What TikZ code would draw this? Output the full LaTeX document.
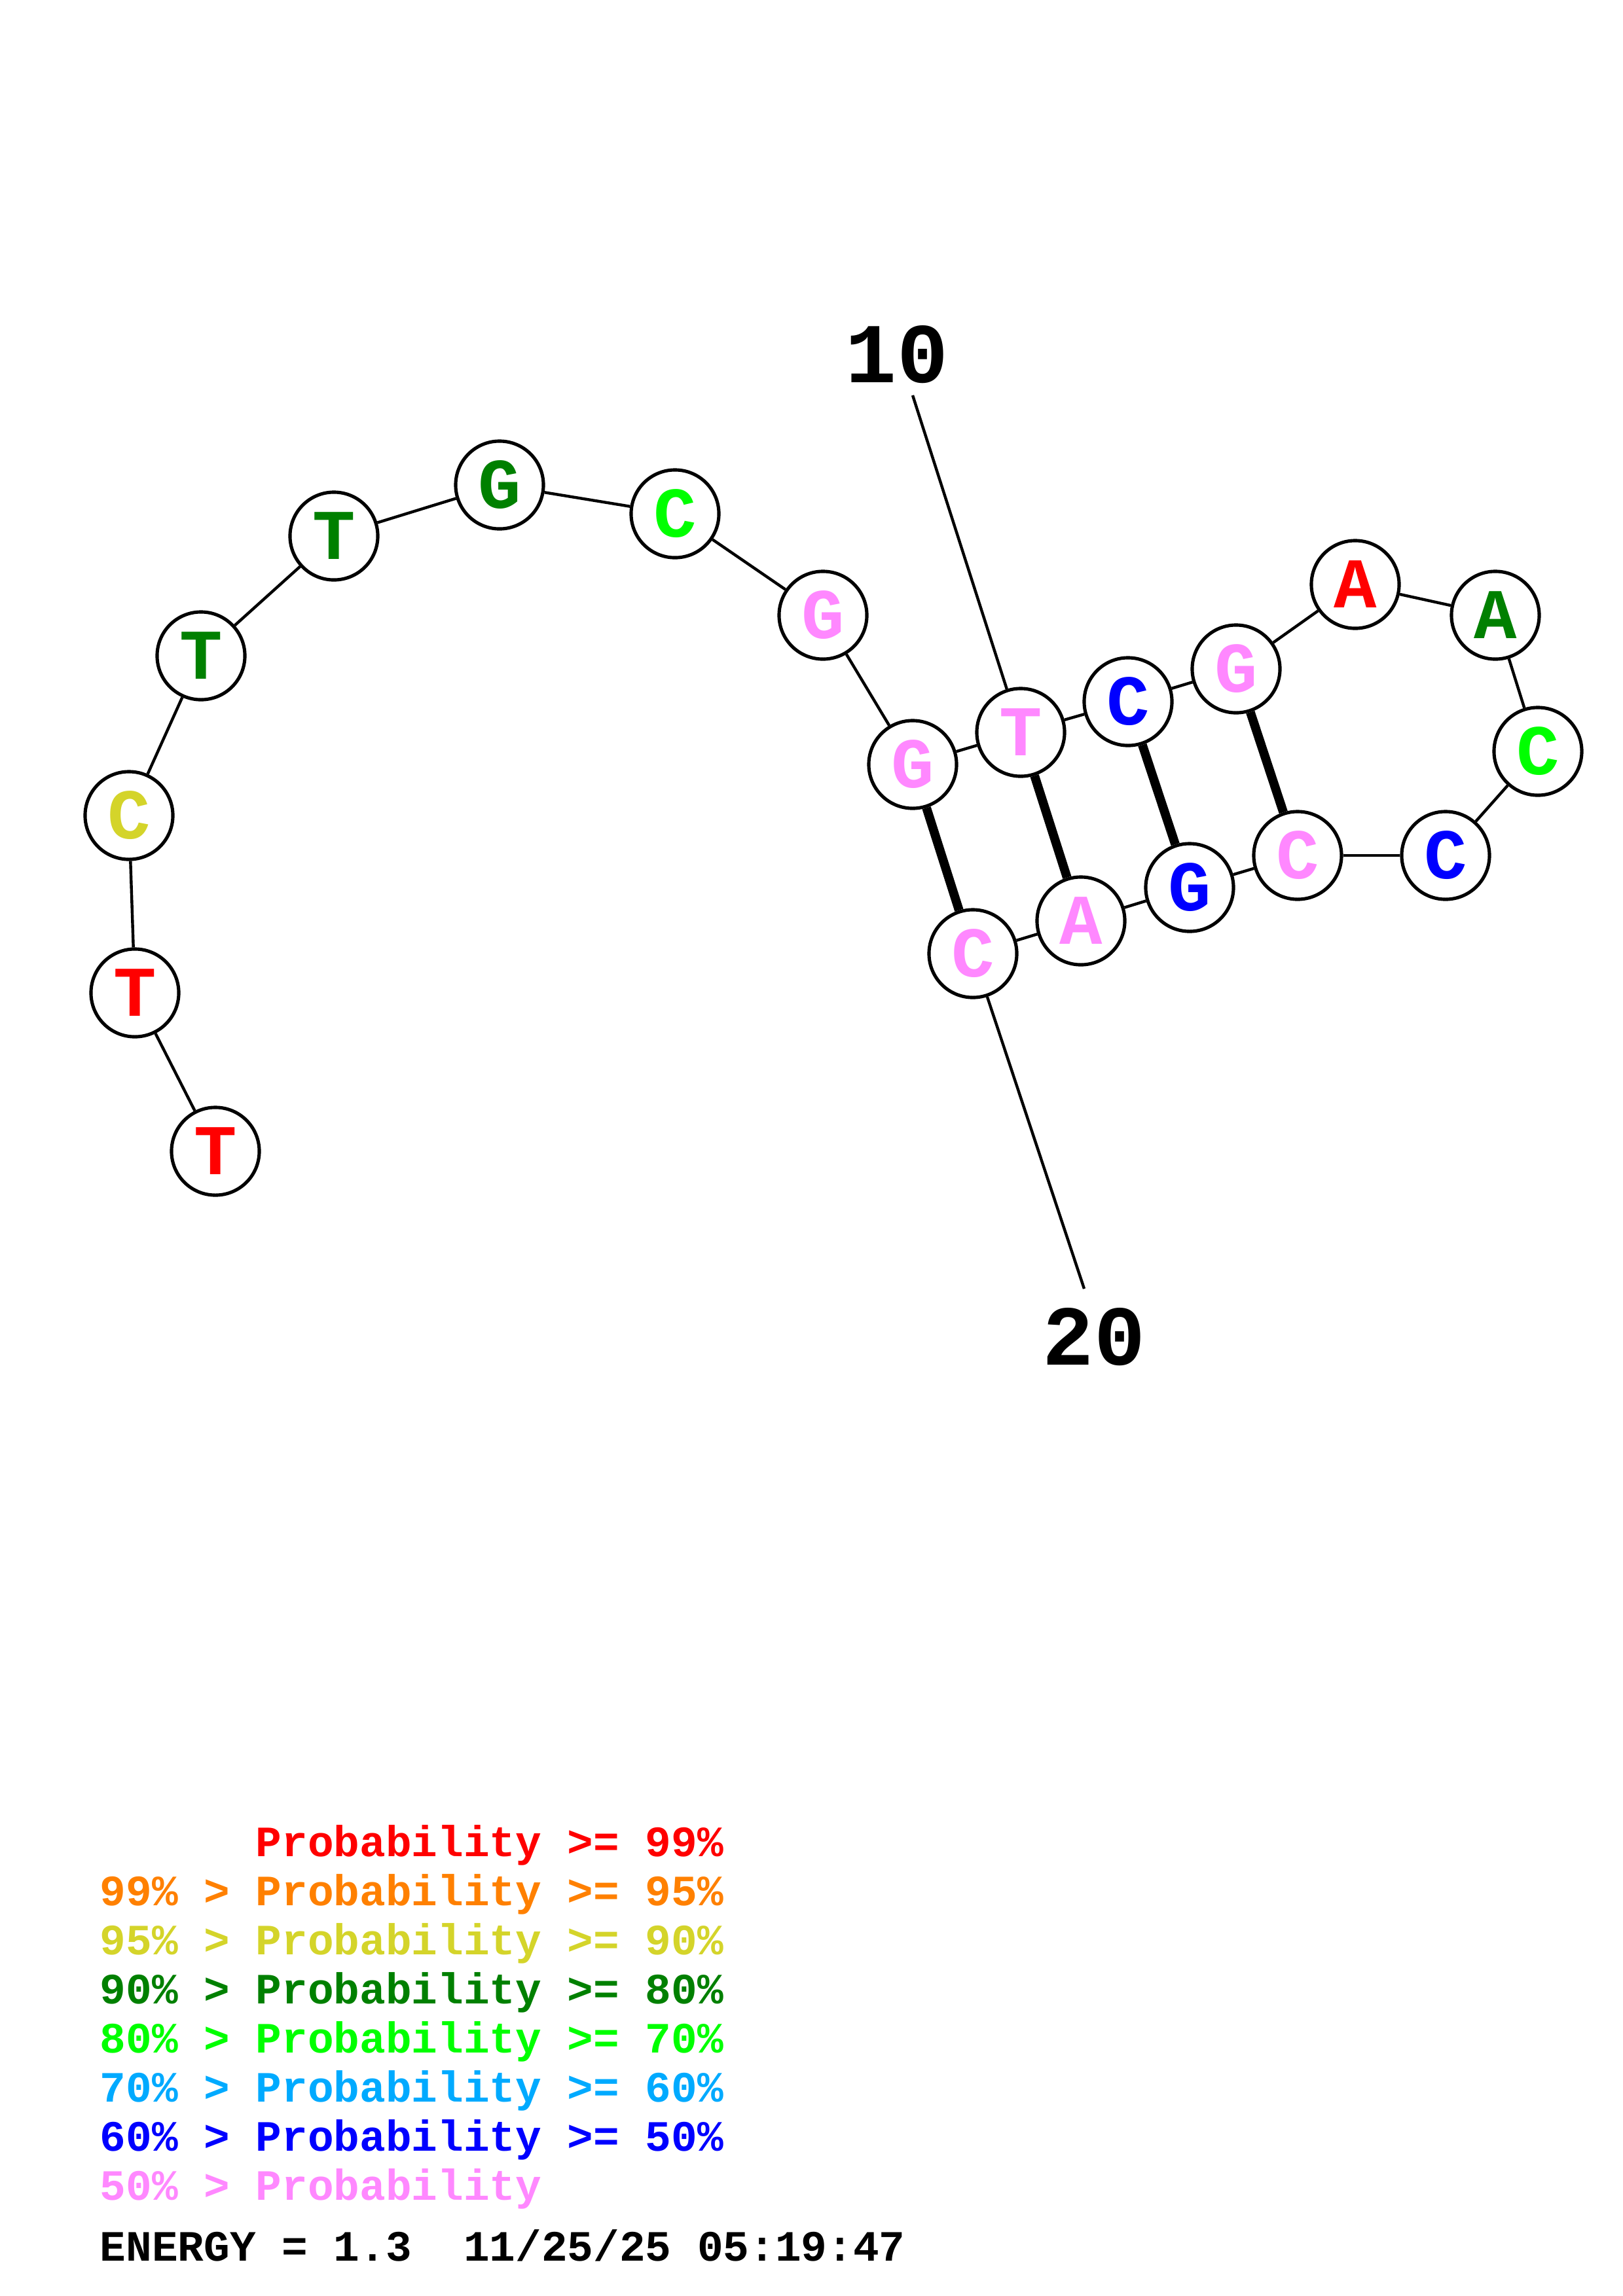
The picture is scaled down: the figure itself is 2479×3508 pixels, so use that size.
\documentclass[tikz,border=0pt]{standalone}
\usepackage{fontspec}
\setmonofont{Liberation Mono}
\definecolor{cRed}{HTML}{FF0000}
\definecolor{cOrange}{HTML}{FF8000}
\definecolor{cYellow}{HTML}{D4D42A}
\definecolor{cDGreen}{HTML}{008000}
\definecolor{cGreen}{HTML}{00FF00}
\definecolor{cSky}{HTML}{00AAFF}
\definecolor{cBlue}{HTML}{0000FF}
\definecolor{cPink}{HTML}{FF88FF}
\tikzset{
  nt/.style={circle,draw=black,line width=1.45pt,fill=white,minimum size=1.34cm,inner sep=0pt,
    font=\ttfamily\bfseries\fontsize{31}{31}\selectfont},
  bb/.style={line width=1.25pt,black},
  bp/.style={line width=3.9pt,black},
  numlab/.style={font=\ttfamily\bfseries\fontsize{37}{37}\selectfont,inner sep=0pt},
  leg/.style={anchor=base west,inner sep=0pt,font=\ttfamily\bfseries\fontsize{18.8}{18.8}\selectfont}
}
\begin{document}
\begin{tikzpicture}[x=0.01cm,y=-0.01cm]
\useasboundingbox (0,0) rectangle (2479,3508);
% nucleotides
\node[nt,text=cRed]    (n1)  at (329,1759) {T};
\node[nt,text=cRed]    (n2)  at (206,1517) {T};
\node[nt,text=cYellow] (n3)  at (197,1246) {C};
\node[nt,text=cDGreen] (n4)  at (307,1002) {T};
\node[nt,text=cDGreen] (n5)  at (510,819)  {T};
\node[nt,text=cDGreen] (n6)  at (763,741)  {G};
\node[nt,text=cGreen]  (n7)  at (1031,785) {C};
\node[nt,text=cPink]   (n8)  at (1257,940) {G};
\node[nt,text=cPink]   (n9)  at (1394,1168) {G};
\node[nt,text=cPink]   (n10) at (1559,1119) {T};
\node[nt,text=cBlue]   (n11) at (1723,1072) {C};
\node[nt,text=cPink]   (n12) at (1888,1022) {G};
\node[nt,text=cRed]    (n13) at (2070,893)  {A};
\node[nt,text=cDGreen] (n14) at (2284,940)  {A};
\node[nt,text=cGreen]  (n15) at (2349,1148) {C};
\node[nt,text=cBlue]   (n16) at (2208,1307) {C};
\node[nt,text=cPink]   (n17) at (1982,1307) {C};
\node[nt,text=cBlue]   (n18) at (1817,1356) {G};
\node[nt,text=cPink]   (n19) at (1651,1407) {A};
\node[nt,text=cPink]   (n20) at (1486,1457) {C};
% backbone
\foreach \a/\b in {1/2,2/3,3/4,4/5,5/6,6/7,7/8,8/9,9/10,10/11,11/12,12/13,13/14,14/15,15/16,16/17,17/18,18/19,19/20}
  \draw[bb] (n\a) -- (n\b);
% base pairs
\foreach \a/\b in {9/20,10/19,11/18,12/17}
  \draw[bp] (n\a) -- (n\b);
% number labels
\node[numlab] (l10) at (1370,542) {10};
\node[numlab] (l20) at (1671,2043) {20};
\coordinate (t10) at (1394,604);
\coordinate (t20) at (1656,1969);
\draw[bb] (t10) -- (n10);
\draw[bb] (n20) -- (t20);
% legend
\node[leg,text=cRed]    (g1) at (152,2836) {\hphantom{99\% > }Probability >= 99\%};
\node[leg,text=cOrange] (g2) at (152,2911) {99\% > Probability >= 95\%};
\node[leg,text=cYellow] (g3) at (152,2986) {95\% > Probability >= 90\%};
\node[leg,text=cDGreen] (g4) at (152,3061) {90\% > Probability >= 80\%};
\node[leg,text=cGreen]  (g5) at (152,3136) {80\% > Probability >= 70\%};
\node[leg,text=cSky]    (g6) at (152,3211) {70\% > Probability >= 60\%};
\node[leg,text=cBlue]   (g7) at (152,3286) {60\% > Probability >= 50\%};
\node[leg,text=cPink]   (g8) at (152,3361) {50\% > Probability};
\node[leg,text=black]   (en) at (152,3454) {ENERGY = 1.3\ \ 11/25/25 05:19:47};
\end{tikzpicture}
\end{document}
